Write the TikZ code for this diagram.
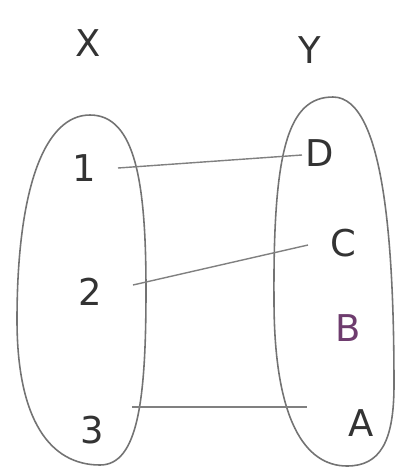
\documentclass[tikz,border=0pt]{standalone}
\usepackage{fontspec}
\setmainfont{DejaVu Sans}
\begin{document}
\begin{tikzpicture}[x=0.02cm,y=-0.02cm,
  oval/.style={draw=black!55, line width=0.9pt},
  link/.style={draw=black!50, line width=0.8pt},
  lbl/.style={text=black!80, font=\fontsize{21}{24}\selectfont, inner sep=1pt}]
\useasboundingbox (0,0) rectangle (400,468);
% sets
\draw[oval] (90,115) .. controls (136,115) and (146,185) .. (146,290)
  .. controls (146,400) and (138,465) .. (100,465)
  .. controls (50,465) and (17,420) .. (17,320)
  .. controls (17,190) and (44,115) .. (90,115) -- cycle;
\draw[oval] (333,97) .. controls (385,97) and (394,250) .. (394,385)
  .. controls (394,442) and (380,466) .. (347,466)
  .. controls (305,466) and (274,420) .. (274,300)
  .. controls (273,150) and (288,97) .. (333,97) -- cycle;
% labels
\node[lbl] (X) at (88,43) {X};
\node[lbl] (Y) at (310,50) {Y};
\node[lbl] (n1) at (84,168) {1};
\node[lbl] (n2) at (90,292) {2};
\node[lbl] (n3) at (92,430) {3};
\node[lbl] (D) at (320,153) {D};
\node[lbl] (C) at (343,243) {C};
\node[lbl, text={rgb,255:red,110;green,60;blue,110}] (B) at (348,328) {B};
\node[lbl] (A) at (361,423) {A};
% connector ends
\coordinate (a1) at (118,168);
\coordinate (b1) at (302,155);
\coordinate (a2) at (133,285);
\coordinate (b2) at (308,245);
\coordinate (a3) at (132,407);
\coordinate (b3) at (307,407);
\draw[link] (a1) -- (b1);
\draw[link] (a2) -- (b2);
\draw[link] (a3) -- (b3);
\end{tikzpicture}
\end{document}
